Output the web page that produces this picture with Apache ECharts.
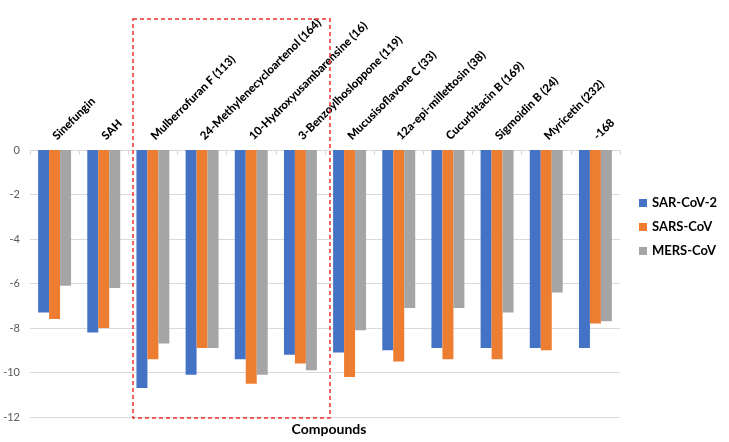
<!DOCTYPE html>
<html>
<head>
<meta charset="utf-8">
<script src="https://cdn.jsdelivr.net/npm/echarts@6/dist/echarts.min.js"></script>
<style>html,body{margin:0;padding:0;background:#fff}#c{width:729px;height:442px}</style>
</head>
<body>
<div id="c"></div>
<script>
const categories = ['Sinefungin','SAH','Mulberrofuran F (113)','24-Methylenecycloartenol (164)','10-Hydroxyusambarensine (16)','3-Benzoylhosloppone (119)','Mucusisoflavone C (33)','12a-epi-millettosin (38)','Cucurbitacin B (169)','Sigmoidin B (24)','Myricetin (232)','-168'];
const sarCoV2 = [-7.3,-8.2,-10.7,-10.1,-9.4,-9.2,-9.1,-9.0,-8.9,-8.9,-8.9,-8.9];
const sarsCoV = [-7.6,-8.0,-9.4,-8.9,-10.5,-9.6,-10.2,-9.5,-9.4,-9.4,-9.0,-7.8];
const mersCoV = [-6.1,-6.2,-8.7,-8.9,-10.1,-9.9,-8.1,-7.1,-7.1,-7.3,-6.4,-7.7];
const seriesNames = ['SAR-CoV-2','SARS-CoV','MERS-CoV'];
const colors = ['#4472C4','#ED7D31','#A5A5A5'];
const FONT = 'Lato';

const chart = echarts.init(document.getElementById('c'));
const dataSets = [sarCoV2, sarsCoV, mersCoV];
chart.setOption({
  animation: false,
  color: colors,
  textStyle: { fontFamily: FONT },
  grid: { left: 30, right: 109, top: 150, bottom: 25, containLabel: false, outerBoundsMode: 'none' },
  title: {
    text: 'Compounds', left: 324, top: 417, textAlign: 'center',
    textStyle: { fontFamily: FONT, fontWeight: 'bold', fontSize: 14, color: '#000' }
  },
  legend: {
    orient: 'vertical', left: 634, top: 190, itemWidth: 8, itemHeight: 8, itemGap: 8,
    icon: 'rect',
    textStyle: { fontFamily: FONT, fontWeight: 'bold', fontSize: 13, color: '#000', lineHeight: 16 },
    data: seriesNames
  },
  xAxis: {
    type: 'category', position: 'top', data: categories,
    axisLine: { show: true, lineStyle: { color: '#D9D9D9' } },
    axisTick: { show: true, inside: true, length: 5, lineStyle: { color: '#D9D9D9' } },
    axisLabel: { interval: 0, rotate: 45, margin: 12, fontFamily: FONT, fontWeight: 900, fontSize: 11.5, color: '#000' }
  },
  yAxis: {
    type: 'value', min: -12, max: 0, interval: 2,
    name: 'Binding Affinity (Kcal/mol)', nameLocation: 'middle', nameGap: 11,
    nameTextStyle: { fontFamily: FONT, fontWeight: 'bold', fontSize: 16, color: '#000', padding: [0, 0, 0, 50] },
    axisLine: { show: false }, axisTick: { show: false },
    axisLabel: { margin: 10, fontFamily: FONT, fontSize: 11, color: '#595959' },
    splitLine: { lineStyle: { color: '#D9D9D9' } }
  },
  graphic: [{
    type: 'rect', shape: { x: 133, y: 19, width: 197, height: 399 },
    style: { fill: 'none', stroke: '#F0302A', lineWidth: 1.5, lineDash: [4, 3] }, z: 100
  }],
  series: seriesNames.map((n, i) => ({
    name: n, type: 'bar', data: dataSets[i], barGap: '0%', barCategoryGap: '33%'
  }))
});
</script>
</body>
</html>
